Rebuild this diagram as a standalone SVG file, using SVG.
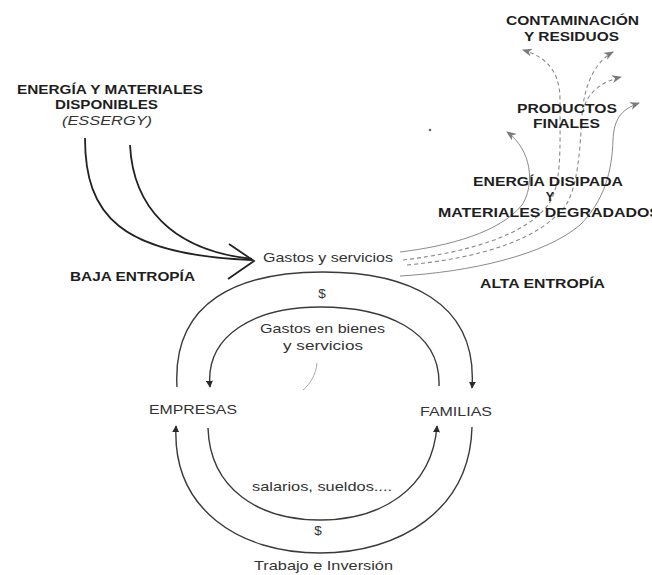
<svg xmlns="http://www.w3.org/2000/svg" width="652" height="575" viewBox="0 0 652 575">
<style>
.b{font-family:"Liberation Sans",Arial,sans-serif;font-weight:bold;fill:#1e1e1e;font-size:12.5px}
.r{font-family:"Liberation Sans",Arial,sans-serif;fill:#333;font-size:13.5px}
.arc{fill:none;stroke:#3a3a3a;stroke-width:1.4}
.flow{fill:none;stroke:#222;stroke-width:1.8}
.thin{fill:none;stroke:#8a8a8a;stroke-width:1}
.dash{fill:none;stroke:#8a8a8a;stroke-width:1.1;stroke-dasharray:4 3}
</style>
<defs>
<marker id="tri" viewBox="0 0 10 10" refX="9" refY="5" markerWidth="7" markerHeight="7" orient="auto" markerUnits="userSpaceOnUse">
<path d="M0,0 L10,5 L0,10 z" fill="#2a2a2a"/>
</marker>
<marker id="hook" viewBox="0 0 10 8" refX="9" refY="4" markerWidth="10" markerHeight="8" orient="auto" markerUnits="userSpaceOnUse">
<path d="M0,0 L10,4 L0,8 L3,4 z" fill="#7a7a7a"/>
</marker>
</defs>
<rect width="652" height="575" fill="#fff"/>

<g id="connectors">
<path class="flow" d="M85,138 C85,215 120,255 252,260"/>
<path class="flow" d="M130,145 C133,205 170,250 252,259"/>
<path class="flow" d="M229,244 L254,261 L228,279"/>
<path class="arc" marker-end="url(#tri)" d="M177,387 C172,300 240,272 323,272 C405,272 478,300 472,388"/>
<path class="arc" marker-end="url(#tri)" d="M439,386 C441,330 385,307 320,307 C255,307 205,335 210,387"/>
<path class="arc" marker-end="url(#tri)" d="M208,428 C210,490 260,520 320,520 C380,520 432,490 437,426"/>
<path class="arc" marker-end="url(#tri)" d="M472,427 C470,510 400,553 320,553 C240,553 172,510 176,426"/>
<path class="thin" marker-end="url(#hook)" d="M400,252 C450,246 500,232 522,205 C535,185 532,150 507,132"/>
<path class="dash" marker-end="url(#hook)" d="M403,260 C470,252 525,235 548,205 C562,185 560,150 560,100 C560,75 550,58 523,50"/>
<path class="dash" marker-end="url(#hook)" d="M407,265 C480,258 540,240 566,205 C578,185 580,150 582,115 C584,85 595,62 613,52"/>
<path class="dash" marker-end="url(#hook)" d="M583,112 C586,94 600,82 621,77"/>
<path class="thin" marker-end="url(#hook)" d="M400,276 C470,272 545,255 580,225 C605,200 612,170 613,140 C614,120 620,110 639,103"/>
<path fill="none" stroke="#aaa" stroke-width="1" d="M317,363 C316,375 310,384 303,390"/>
<circle cx="430" cy="130" r="1.3" fill="#666"/>
</g>

<g id="energia-materiales">
<text class="b" x="17" y="94" textLength="186" lengthAdjust="spacingAndGlyphs">ENERGÍA Y MATERIALES</text>
<text class="b" x="55" y="109" textLength="103" lengthAdjust="spacingAndGlyphs">DISPONIBLES</text>
<text class="r" x="62" y="125" font-style="italic" font-size="12.5" textLength="90" lengthAdjust="spacingAndGlyphs">(ESSERGY)</text>
</g>
<g id="baja-entropia">
<text class="b" x="70" y="281" textLength="125" lengthAdjust="spacingAndGlyphs">BAJA ENTROPÍA</text>
</g>
<g id="gastos-servicios">
<text class="r" x="263" y="262" font-size="14.5" textLength="130" lengthAdjust="spacingAndGlyphs">Gastos y servicios</text>
</g>
<g id="dinero-arriba">
<text class="r" x="322" y="298" text-anchor="middle" font-size="12">$</text>
</g>
<g id="gastos-bienes">
<text class="r" x="260" y="333" textLength="125" lengthAdjust="spacingAndGlyphs">Gastos en bienes</text>
<text class="r" x="283" y="350" textLength="80" lengthAdjust="spacingAndGlyphs">y servicios</text>
</g>
<g id="empresas">
<text class="r" x="149" y="414" textLength="88" lengthAdjust="spacingAndGlyphs">EMPRESAS</text>
</g>
<g id="familias">
<text class="r" x="420" y="416" textLength="72" lengthAdjust="spacingAndGlyphs">FAMILIAS</text>
</g>
<g id="salarios">
<text class="r" x="252" y="491" font-size="12.5" textLength="140" lengthAdjust="spacingAndGlyphs">salarios, sueldos....</text>
</g>
<g id="dinero-abajo">
<text class="r" x="318" y="535" text-anchor="middle" font-size="12">$</text>
</g>
<g id="trabajo">
<text class="r" x="254" y="570" textLength="139" lengthAdjust="spacingAndGlyphs">Trabajo e Inversión</text>
</g>
<g id="contaminacion">
<text class="b" x="506" y="25" textLength="133" lengthAdjust="spacingAndGlyphs">CONTAMINACIÓN</text>
<text class="b" x="524" y="41" textLength="95" lengthAdjust="spacingAndGlyphs">Y RESIDUOS</text>
</g>
<g id="productos">
<text class="b" x="517" y="113" textLength="100" lengthAdjust="spacingAndGlyphs">PRODUCTOS</text>
<text class="b" x="533" y="128" textLength="67" lengthAdjust="spacingAndGlyphs">FINALES</text>
</g>
<g id="energia-disipada">
<text class="b" x="473" y="186" textLength="150" lengthAdjust="spacingAndGlyphs">ENERGÍA DISIPADA</text>
<text class="b" x="550" y="201" text-anchor="middle" font-size="10">Y</text>
<text class="b" x="438" y="217" textLength="222" lengthAdjust="spacingAndGlyphs">MATERIALES DEGRADADOS</text>
</g>
<g id="alta-entropia">
<text class="b" x="480" y="288" textLength="125" lengthAdjust="spacingAndGlyphs">ALTA ENTROPÍA</text>
</g>
</svg>
